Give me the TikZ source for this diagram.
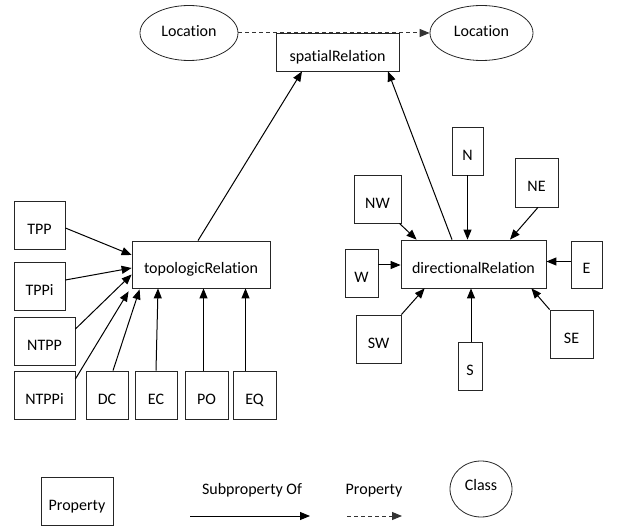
\documentclass[tikz,border=0pt]{standalone}
\usepackage{fontspec}
\setmainfont{Carlito}[Ligatures={NoCommon}]
\usetikzlibrary{arrows.meta,shapes.geometric}

\tikzset{
  prop/.style={draw=black!85, line width=0.8pt, rectangle, inner sep=0pt,
    text height=19pt, text depth=0pt},
  cls/.style={draw=black!85, line width=0.8pt, ellipse, inner sep=0pt,
    text height=10pt, text depth=2pt},
  plain/.style={inner sep=0pt, anchor=base},
  sub/.style={draw=black, line width=1pt, -{Triangle[length=10pt,width=8pt]}},
  rel/.style={draw=black!80, line width=1pt, dash pattern=on 4pt off 3pt,
    -{Triangle[length=10pt,width=8pt]}},
}

\begin{document}
\begin{tikzpicture}[x=1pt, y=-1pt, font=\fontsize{16}{19}\selectfont]
\useasboundingbox (0,0) rectangle (626,526);

% classes at the top and the spatial relation
\node[cls, minimum width=98pt, minimum height=55pt] (loc1) at (189,33) {Location};
\node[cls, minimum width=103pt, minimum height=55pt] (loc2) at (481.5,33) {Location};
\node[prop, minimum width=123pt, minimum height=38pt] (spatial) at (337.5,52) {spatialRelation};

% topological relations
\node[prop, minimum width=138pt, minimum height=47pt] (topo) at (201,264.5) {topologicRelation};
\node[prop, minimum width=51pt, minimum height=48pt] (tpp) at (39.5,225) {TPP};
\node[prop, minimum width=51pt, minimum height=48pt] (tppi) at (39.5,286) {TPPi};
\node[prop, minimum width=61pt, minimum height=48pt] (ntpp) at (44.5,341) {NTPP};
\node[prop, minimum width=61pt, minimum height=48pt] (ntppi) at (44.5,395) {NTPPi};
\node[prop, minimum width=42pt, minimum height=48pt] (dc) at (107,395) {DC};
\node[prop, minimum width=42pt, minimum height=48pt] (ec) at (156,395) {EC};
\node[prop, minimum width=43pt, minimum height=48pt] (po) at (206.5,395) {PO};
\node[prop, minimum width=43pt, minimum height=48pt] (eq) at (254.5,395) {EQ};

% directional relations
\node[prop, minimum width=145pt, minimum height=48pt] (dir) at (473.5,264) {directionalRelation};
\node[prop, minimum width=31pt, minimum height=48pt] (n) at (467.5,151) {N};
\node[prop, minimum width=43pt, minimum height=49pt] (ne) at (536.5,182.5) {NE};
\node[prop, minimum width=47pt, minimum height=48pt] (nw) at (377.5,199) {NW};
\node[prop, minimum width=33pt, minimum height=48pt] (w) at (361.5,273) {W};
\node[prop, minimum width=31pt, minimum height=47pt] (e) at (586.5,264.5) {E};
\node[prop, minimum width=45pt, minimum height=48pt] (sw) at (378.5,339) {SW};
\node[prop, minimum width=43pt, minimum height=48pt] (se) at (571.5,334) {SE};
\node[prop, minimum width=24pt, minimum height=48pt] (s) at (470,366) {S};

% property between the two locations
\draw[rel] (loc1.east) -- (loc2.west);

% subproperties of spatialRelation
\draw[sub] ([xshift=-3pt]topo.north) -- ([xshift=-35.5pt]spatial.south);
\draw[sub] ([xshift=-21.5pt]dir.north) -- ([xshift=50.5pt]spatial.south);

% subproperties of topologicRelation
\draw[sub] ([yshift=-3pt]tpp.east) -- ([yshift=9.5pt]topo.west);
\draw[sub] ([yshift=6pt]tppi.east) -- ([yshift=-3.5pt]topo.west);
\draw[sub] ([yshift=12pt]ntpp.east) -- ([yshift=-10pt]topo.west);
\draw[sub] ([yshift=16pt]ntppi.east) -- ([xshift=-3pt,yshift=-3pt]topo.south west);
\draw[sub] ([xshift=6pt]dc.north) -- ([xshift=8pt,yshift=-1pt]topo.south west);
\draw[sub] (ec.north) -- ([xshift=-43pt]topo.south);
\draw[sub] ([xshift=-3pt]po.north) -- ([xshift=-3pt]po.north |- topo.south);
\draw[sub] ([xshift=-9pt]eq.north) -- ([xshift=-9pt]eq.north |- topo.south);

% subproperties of directionalRelation
\draw[sub] (n.south) -- (n.south |- dir.north);
\draw[sub] ([xshift=1.5pt]ne.south) -- ([xshift=36.5pt]dir.north);
\draw[sub] ([xshift=-2pt]nw.south east) -- ([xshift=16pt]dir.north west);
\draw[sub] ([yshift=8pt]w.east) -- ([yshift=8pt]w.east -| dir.west);
\draw[sub] ([yshift=3pt]e.west) -- ([yshift=3pt]e.west -| dir.east);
\draw[sub] (sw.north east) -- ([xshift=24pt]dir.south west);
\draw[sub] (se.north west) -- ([xshift=-15pt]dir.south east);
\draw[sub] ([xshift=1pt]s.north) -- ([xshift=1pt]s.north |- dir.south);

% legend
\node[prop, minimum width=72pt, minimum height=48pt] (legprop) at (77,501) {Property};
\node[plain] (legsub) at (252,494) {Subproperty Of};
\node[plain] (legrel) at (374,494) {Property};
\coordinate (s1) at (190,516);
\coordinate (s2) at (310,516);
\coordinate (r1) at (347,516);
\coordinate (r2) at (402,516);
\draw[sub] (s1) -- (s2);
\draw[rel] (r1) -- (r2);
\node[cls, minimum width=62pt, minimum height=56pt, text height=8pt, text depth=6pt] (legcls) at (481,489) {Class};
\end{tikzpicture}
\end{document}
